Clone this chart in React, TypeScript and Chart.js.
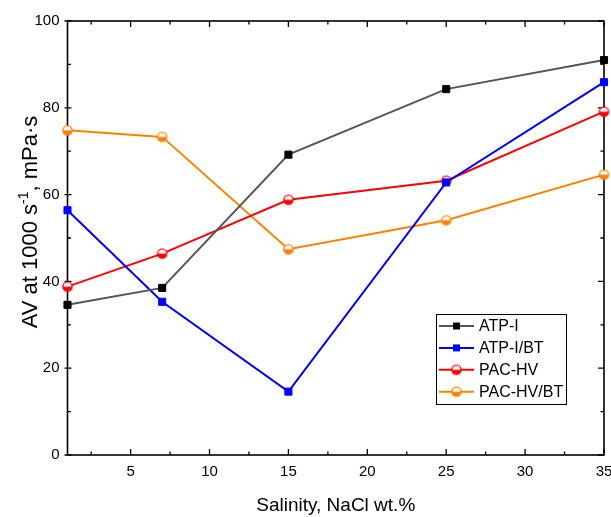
import React, { useEffect, useRef } from 'react';
import { Chart, registerables } from 'chart.js';
Chart.register(...registerables);

const salinity = [1, 7, 15, 25, 35];
const atpI = [34.6, 38.5, 69.2, 84.3, 91.0];
const atpIBT = [56.4, 35.3, 14.6, 62.8, 85.9];
const pacHV = [38.8, 46.4, 58.8, 63.2, 79.1];
const pacHVBT = [74.8, 73.3, 47.4, 54.1, 64.6];
const seriesNames = ['ATP-I', 'ATP-I/BT', 'PAC-HV', 'PAC-HV/BT'];
const xTicks = [5, 10, 15, 20, 25, 30, 35];
const xMinorTicks = [2.5, 7.5, 12.5, 17.5, 22.5, 27.5, 32.5];
const yTicks = [0, 20, 40, 60, 80, 100];
const yMinorTicks = [10, 30, 50, 70, 90];
const xTitle = 'Salinity, NaCl wt.%';
const yTitleParts = ['AV at 1000 s', '-1', ', mPa·s'];

const FONT = "'Liberation Sans', Arial, sans-serif";
const lineColors = ['#555555', '#0000ff', '#ff0000', '#ff8000'];
const markerColors = ['#000000', '#0000ff', '#ff0000', '#ff8000'];

function halfCircle(color: string, r = 4.6) {
  const s = 13;
  const c = document.createElement('canvas');
  c.width = s;
  c.height = s;
  const g = c.getContext('2d')!;
  const cx = s / 2, cy = s / 2;
  g.beginPath(); g.arc(cx, cy, r, 0, 2 * Math.PI); g.fillStyle = '#fff'; g.fill();
  g.beginPath(); g.arc(cx, cy, r, 0, Math.PI); g.closePath(); g.fillStyle = color; g.fill();
  g.beginPath(); g.arc(cx, cy, r, 0, 2 * Math.PI); g.strokeStyle = color; g.lineWidth = 1.3; g.stroke();
  return c;
}

export default function App() {
  const ref = useRef<HTMLCanvasElement>(null);
  useEffect(() => {
    const canvas = ref.current!;
    const circles = [halfCircle(markerColors[2]), halfCircle(markerColors[3])];
    const series = [atpI, atpIBT, pacHV, pacHVBT];
    const datasets = series.map((vals, i) => ({
      label: seriesNames[i],
      data: salinity.map((x, j) => ({ x, y: vals[j] })),
      borderColor: lineColors[i],
      backgroundColor: markerColors[i],
      borderWidth: 2,
      pointStyle: i < 2 ? 'rect' : circles[i - 2],
      pointRadius: 5,
      pointBorderWidth: 1,
      pointBorderColor: markerColors[i],
      pointBackgroundColor: markerColors[i],
      clip: false as any,
      tension: 0,
    }));

    const framePlugin = {
      id: 'frame',
      beforeDatasetsDraw(chart: any) {
        const { ctx, chartArea: a, scales } = chart;
        const xs = scales.x, ys = scales.y;
        ctx.save();
        ctx.strokeStyle = '#000';
        ctx.lineWidth = 1.6;
        ctx.strokeRect(a.left, a.top, a.right - a.left, a.bottom - a.top);
        ctx.lineWidth = 1.3;
        ctx.beginPath();
        const hline = (x: number, y: number, len: number) => { ctx.moveTo(x, y); ctx.lineTo(x + len, y); };
        const vline = (x: number, y: number, len: number) => { ctx.moveTo(x, y); ctx.lineTo(x, y + len); };
        xTicks.forEach(v => { const p = xs.getPixelForValue(v); vline(p, a.bottom, -6); vline(p, a.top, 6); });
        xMinorTicks.forEach(v => { const p = xs.getPixelForValue(v); vline(p, a.bottom, -3.5); vline(p, a.top, 3.5); });
        yTicks.forEach(v => { const p = ys.getPixelForValue(v); hline(a.left - 3, p, 7); hline(a.right, p, -6); });
        yMinorTicks.forEach(v => { const p = ys.getPixelForValue(v); hline(a.left, p, 3.5); hline(a.right, p, -3.5); });
        ctx.stroke();
        ctx.restore();
      },
      afterDraw(chart: any) {
        const { ctx, chartArea: a } = chart;
        ctx.save();
        ctx.fillStyle = '#000';
        // x title
        ctx.font = `19px ${FONT}`;
        ctx.textAlign = 'center';
        ctx.textBaseline = 'alphabetic';
        ctx.fillText(xTitle, (a.left + a.right) / 2, 511);
        // y title
        const big = `22px ${FONT}`, small = `14px ${FONT}`;
        ctx.font = big; const w0 = ctx.measureText(yTitleParts[0]).width; const w2 = ctx.measureText(yTitleParts[2]).width;
        ctx.font = small; const w1 = ctx.measureText(yTitleParts[1]).width;
        const total = w0 + w1 + w2;
        ctx.translate(36.5, 222);
        ctx.rotate(-Math.PI / 2);
        ctx.textAlign = 'left';
        let x = -total / 2;
        ctx.font = big; ctx.fillText(yTitleParts[0], x, 0); x += w0;
        ctx.font = small; ctx.fillText(yTitleParts[1], x, -9); x += w1;
        ctx.font = big; ctx.fillText(yTitleParts[2], x, 0);
        ctx.restore();

        // legend
        ctx.save();
        const lx = 436.5, ly = 314.5, lw = 130, lh = 90;
        ctx.fillStyle = '#fff';
        ctx.fillRect(lx, ly, lw, lh);
        ctx.strokeStyle = '#000';
        ctx.lineWidth = 1;
        ctx.strokeRect(lx, ly, lw, lh);
        ctx.font = `16px ${FONT}`;
        ctx.textBaseline = 'middle';
        ctx.textAlign = 'left';
        seriesNames.forEach((name, i) => {
          const y = 326 + i * 21.9;
          ctx.strokeStyle = lineColors[i];
          ctx.lineWidth = 2;
          ctx.beginPath(); ctx.moveTo(439, y); ctx.lineTo(474, y); ctx.stroke();
          const cx = 456.5;
          if (i < 2) {
            ctx.fillStyle = markerColors[i];
            ctx.fillRect(cx - 3.5, y - 3.5, 7, 7);
          } else {
            ctx.drawImage(circles[i - 2], cx - 6.5, y - 6.5);
          }
          ctx.fillStyle = '#000';
          ctx.fillText(name, 479, y + 1);
        });
        ctx.restore();
      },
    };

    const chart = new Chart(canvas, {
      type: 'line',
      data: { datasets: datasets as any },
      options: {
        animation: false,
        responsive: false,
        layout: { padding: { left: 0, right: 7, top: 21, bottom: 0 } },
        plugins: { legend: { display: false }, tooltip: { enabled: false } },
        scales: {
          x: {
            type: 'linear',
            min: 1,
            max: 35,
            grid: { display: false, drawTicks: false },
            border: { display: false },
            afterBuildTicks: (s: any) => { s.ticks = xTicks.map(v => ({ value: v })); },
            afterFit: (s: any) => { s.height = 62; s.paddingLeft = 0; s.paddingRight = 0; },
            ticks: { font: { family: FONT, size: 15 }, color: '#000', padding: 8, autoSkip: false, maxRotation: 0 },
          },
          y: {
            type: 'linear',
            min: 0,
            max: 100,
            grid: { display: false, drawTicks: false },
            border: { display: false },
            afterBuildTicks: (s: any) => { s.ticks = yTicks.map(v => ({ value: v })); },
            afterFit: (s: any) => { s.width = 67.5; s.paddingTop = 0; s.paddingBottom = 0; },
            ticks: { font: { family: FONT, size: 15 }, color: '#000', padding: 8 },
          },
        },
      },
      plugins: [framePlugin],
    });
    return () => chart.destroy();
  }, []);
  return (
    <div style={{ position: 'fixed', left: 0, top: 0, width: 611, height: 517, background: '#fff' }}>
      <canvas ref={ref} width={611} height={517} style={{ display: 'block' }} />
    </div>
  );
}
